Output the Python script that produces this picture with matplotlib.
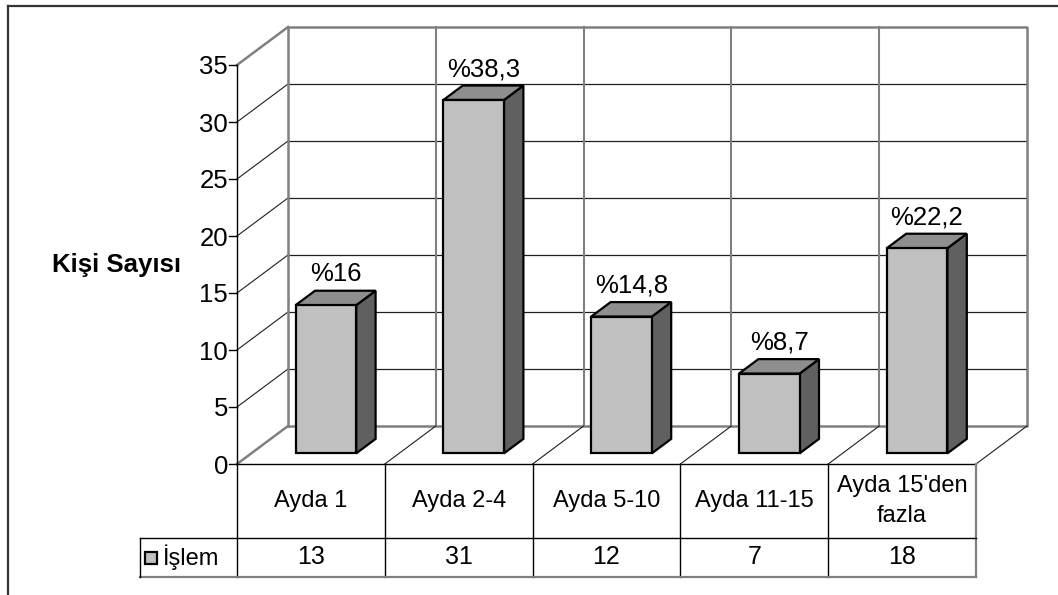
import matplotlib.pyplot as plt
from matplotlib.patches import Polygon

plt.rcParams["font.family"] = ["Liberation Sans", "DejaVu Sans"]

# =========================
# DATA
# =========================
CATEGORIES = ["Ayda 1", "Ayda 2-4", "Ayda 5-10", "Ayda 11-15", "Ayda 15'den\nfazla"]
VALUES = [13, 31, 12, 7, 18]
PERCENT_LABELS = ["%16", "%38,3", "%14,8", "%8,7", "%22,2"]
SERIES_NAME = "İşlem"
Y_LABEL = "Kişi Sayısı"
Y_TICKS = [0, 5, 10, 15, 20, 25, 30, 35]

# =========================
# 3D-look geometry (category units on x, value units on y)
# =========================
PX_X = 147.8          # pixels per category
PX_Y = 11.4           # pixels per value unit
DX = 51 / PX_X        # full depth shift, x
DY = 38 / PX_Y        # full depth shift, y
YMAX = 35
N = len(CATEGORIES)

BAR_X0, BAR_X1 = 0.30, 0.71
BAR_D0, BAR_D1 = 0.28, 0.66

ROW1 = -74 / PX_Y     # bottom of category row
ROW2 = -113 / PX_Y    # bottom of value row
LEG_X = -97 / PX_X    # left edge of legend cell

FRONT = "#C0C0C0"
TOP = "#8E8E8E"
SIDE = "#606060"
WALL = "#808080"

FS = 17


def proj(x, y, d):
    return (x + d * DX, y + d * DY)


fig = plt.figure(figsize=(10.58, 5.95), dpi=100)
ax = fig.add_axes([0, 0, 1, 1])
ax.set_xlim(-237 / PX_X, (1058 - 237) / PX_X)
ax.set_ylim(-131 / PX_Y, 464 / PX_Y)
ax.axis("off")

# outer frame (top and left only are visible)
ax.plot([-229 / PX_X, 1058 / PX_X], [458.5 / PX_Y] * 2, color="#333333", lw=1.6, zorder=1)
ax.plot([-229 / PX_X] * 2, [458.5 / PX_Y, -131 / PX_Y], color="#333333", lw=1.6, zorder=1)

# back wall gridlines + side wall diagonals
for v in Y_TICKS[1:-1]:
    ax.plot(*zip(proj(0, v, 1), proj(N, v, 1)), color="#202020", lw=0.9, zorder=2)
    ax.plot(*zip(proj(0, v, 0), proj(0, v, 1)), color="#202020", lw=0.8, zorder=2)

# back wall vertical dividers
for k in range(1, N):
    ax.plot(*zip(proj(k, 0, 1), proj(k, YMAX, 1)), color=WALL, lw=1.5, zorder=2)

# wall outlines
ax.plot(*zip(proj(0, 0, 1), proj(0, YMAX, 1), proj(N, YMAX, 1), proj(N, 0, 1), proj(0, 0, 1)),
        color=WALL, lw=1.8, zorder=2)
ax.plot(*zip(proj(0, YMAX, 0), proj(0, YMAX, 1)), color=WALL, lw=1.8, zorder=2)
ax.plot(*zip(proj(0, 0, 0), proj(0, 0, 1)), color=WALL, lw=1.8, zorder=2)

# floor diagonals
for k in range(1, N + 1):
    ax.plot(*zip(proj(k, 0, 0), proj(k, 0, 1)), color="#202020", lw=0.8, zorder=2)

# front value axis with ticks
ax.plot([0, 0], [0, YMAX], color="black", lw=1.0, zorder=3)
for v in Y_TICKS:
    ax.plot([-8 / PX_X, 0], [v, v], color="black", lw=1.0, zorder=3)
    ax.text(-9 / PX_X, v, str(v), ha="right", va="center_baseline", fontsize=18.5, zorder=3)

ax.text(-120 / PX_X, (464 - 265) / PX_Y, Y_LABEL, ha="center", va="center",
        fontsize=18.5, fontweight="bold")

# bars
for i, (val, lab) in enumerate(zip(VALUES, PERCENT_LABELS)):
    x0, x1 = i + BAR_X0, i + BAR_X1
    front = [proj(x0, 0, BAR_D0), proj(x1, 0, BAR_D0), proj(x1, val, BAR_D0), proj(x0, val, BAR_D0)]
    top = [proj(x0, val, BAR_D0), proj(x1, val, BAR_D0), proj(x1, val, BAR_D1), proj(x0, val, BAR_D1)]
    side = [proj(x1, 0, BAR_D0), proj(x1, 0, BAR_D1), proj(x1, val, BAR_D1), proj(x1, val, BAR_D0)]
    for pts, col in [(side, SIDE), (top, TOP), (front, FRONT)]:
        ax.add_patch(Polygon(pts, closed=True, facecolor=col, edgecolor="black",
                             lw=1.6, joinstyle="miter", zorder=5))
    lx, _ = proj((x0 + x1) / 2, val, (BAR_D0 + BAR_D1) / 2)
    _, ly = proj(x0, val, BAR_D1)
    ax.text(lx, ly + 9.5 / PX_Y, lab, ha="center", va="baseline", fontsize=18.5, zorder=6)

# data table
ax.plot([0, N], [0, 0], color="black", lw=1.0, zorder=3)
for k in range(0, N):
    ax.plot([k, k], [0, ROW2], color="black", lw=1.0, zorder=3)
ax.plot([N, N], [0, ROW2], color=WALL, lw=1.6, zorder=3)
ax.plot([LEG_X, N], [ROW1, ROW1], color="black", lw=1.0, zorder=3)
ax.plot([LEG_X, N], [ROW2, ROW2], color=WALL, lw=1.6, zorder=3)
ax.plot([LEG_X, LEG_X], [ROW1, ROW2], color="black", lw=1.0, zorder=3)

for i, (cat, val) in enumerate(zip(CATEGORIES, VALUES)):
    ax.text(i + 0.5, -36.7 / PX_Y, cat, ha="center", va="center", fontsize=FS,
            linespacing=1.45, zorder=4)
    ax.text(i + 0.5, (ROW1 + ROW2) / 2, str(val), ha="center", va="center",
            fontsize=18, zorder=4)

ax.plot([-86 / PX_X], [(ROW1 + ROW2) / 2], marker="s", markersize=8.5,
        markerfacecolor=FRONT, markeredgecolor="black", markeredgewidth=1.6, zorder=4)
ax.text(-74 / PX_X, (ROW1 + ROW2) / 2, SERIES_NAME, ha="left", va="center", fontsize=FS, zorder=4)

fig.savefig("out.png", dpi=100)
plt.close(fig)
